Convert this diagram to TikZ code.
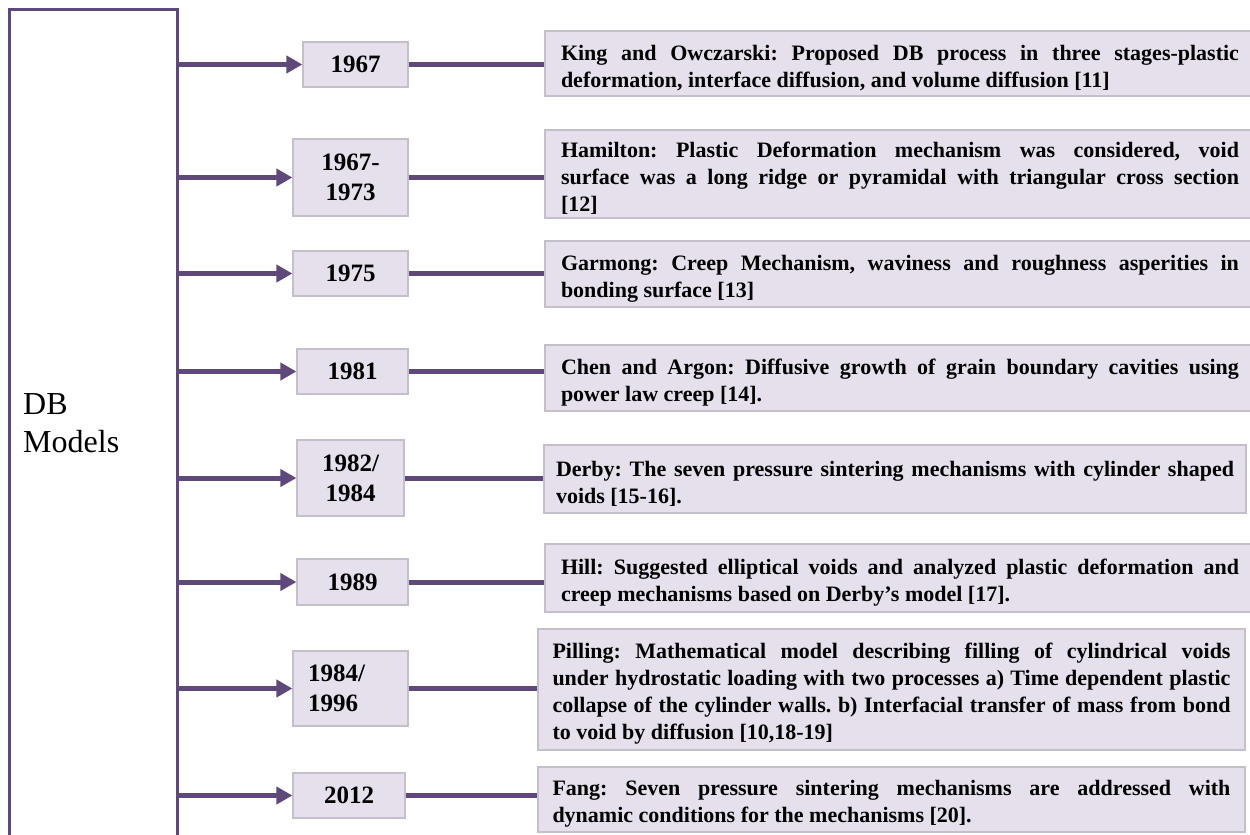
\documentclass[tikz,border=0pt]{standalone}
\usepackage{fontspec}
\setmainfont{Liberation Serif}
\usepackage{tikz}
\usetikzlibrary{arrows.meta}
\frenchspacing
\definecolor{dbpurple}{HTML}{5F497A}
\definecolor{dblilac}{HTML}{E5E0EC}
\definecolor{dbgrey}{HTML}{C3BFCB}
\tikzset{
    yearbox/.style={draw=dbgrey, line width=1.2pt, fill=dblilac, inner sep=0pt,
        align=center, font=\bfseries\fontsize{25}{30}\selectfont},
    notebox/.style={draw=dbgrey, line width=1.2pt, fill=dblilac, inner sep=0pt,
        text width=678pt, align=justify, font=\bfseries\fontsize{22}{27}\selectfont,
        execute at begin node={\rule{0pt}{24pt}}},
    feed/.style={draw=dbpurple, line width=5pt, -{Triangle[length=16pt,width=17pt]}},
    link/.style={draw=dbpurple, line width=5pt}
}

\begin{document}
\begin{tikzpicture}[x=1pt, y=-1pt]
            \useasboundingbox (0,0) rectangle (1250,835);
            \clip (0,0) rectangle (1250,835);

            \node[draw=dbpurple, line width=3pt, minimum width=168pt, minimum height=852pt] (models) at (93,435) {};
            \node[anchor=west, inner sep=0pt, align=left, font=\fontsize{32}{38}\selectfont] (dbtext) at (23,423) {DB\\Models};

            % years
            \node[yearbox, minimum width=105pt, minimum height=45pt] (yr1) at (355.5,64.5) {1967};
            \node[yearbox, minimum width=115pt, minimum height=77pt] (yr2) at (350.5,177.5) {1967-\\1973};
            \node[yearbox, minimum width=115pt, minimum height=45pt] (yr3) at (350.5,273.5) {1975};
            \node[yearbox, minimum width=111pt, minimum height=45pt] (yr4) at (352.5,371.5) {1981};
            \node[yearbox, minimum width=107pt, minimum height=76pt] (yr5) at (350.5,478) {1982/\\1984};
            \node[yearbox, minimum width=111pt, minimum height=46pt] (yr6) at (352.5,582) {1989};
            \node[yearbox, minimum width=115pt, minimum height=75pt, text width=85pt, align=left] (yr7) at (350.5,688.5) {1984/\\1996};
            \node[yearbox, minimum width=112pt, minimum height=45pt] (yr8) at (349,795.5) {2012};

            % descriptions
            \node[notebox, minimum width=710pt, minimum height=65pt] (note1) at (900,63.5)
                {King and Owczarski: Proposed DB process in three stages-plastic\linebreak
                deformation, interface diffusion, and volume diffusion [11]};
            \node[notebox, minimum width=710pt, minimum height=88pt] (note2) at (900,174)
                {Hamilton: Plastic Deformation mechanism was considered, void\linebreak
                surface was a long ridge or pyramidal with triangular cross section\linebreak{}
                [12]};
            \node[notebox, minimum width=710pt, minimum height=66pt] (note3) at (900,274)
                {Garmong: Creep Mechanism, waviness and roughness asperities in\linebreak
                bonding surface [13]};
            \node[notebox, minimum width=710pt, minimum height=66pt] (note4) at (900,378)
                {Chen and Argon: Diffusive growth of grain boundary cavities using\linebreak
                power law creep [14].};
            \node[notebox, minimum width=702pt, minimum height=68pt] (note5) at (895,479)
                {Derby: The seven pressure sintering mechanisms with cylinder shaped\linebreak
                voids [15-16].};
            \node[notebox, minimum width=710pt, minimum height=68pt] (note6) at (900,578)
                {Hill: Suggested elliptical voids and analyzed plastic deformation and\linebreak
                creep mechanisms based on Derby’s model [17].};
            \node[notebox, minimum width=707pt, minimum height=121pt] (note7) at (891.5,689.5)
                {Pilling: Mathematical model describing filling of cylindrical voids\linebreak
                under hydrostatic loading with two processes a) Time dependent plastic\linebreak
                collapse of the cylinder walls. b) Interfacial transfer of mass from bond\linebreak
                to void by diffusion [10,18-19]};
            \node[notebox, minimum width=707pt, minimum height=65pt] (note8) at (891.5,799.5)
                {Fang: Seven pressure sintering mechanisms are addressed with\linebreak
                dynamic conditions for the mechanisms [20].};

            \foreach \k in {1,...,8} {
                \draw[feed] (yr\k.west -| models.east) -- (yr\k.west);
                \draw[link] (yr\k.east) -- (yr\k.east -| note\k.west);
            }
        \end{tikzpicture}
\end{document}
